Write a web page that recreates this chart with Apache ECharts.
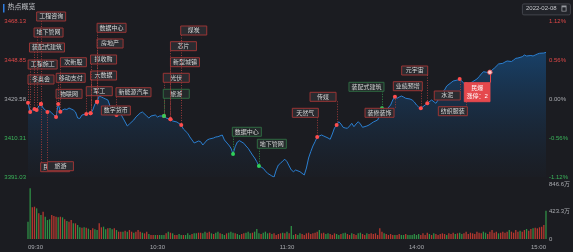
<!DOCTYPE html>
<html><head><meta charset="utf-8">
<script src="https://cdn.jsdelivr.net/npm/echarts@6/dist/echarts.min.js"></script>
<style>html,body{margin:0;padding:0;background:#1b1c21;} #c{width:573px;height:252px;}</style>
</head><body><div id="c"></div>
<script>
// ---------- data ----------
const lineMinutes = [0,1,2,3,4,5,6,7,8,9,10,11,12,13,14,15,16,17,18,19,21,22,23,24,25,27,28,29,30,31,32,33,34,35,36,37,38,39,40,41,42,43,44,46,47,49,50,52,53,55,56,57,59,60,61,63,64,66,67,69,71,72,74,75,76,77,79,80,81,83,84,86,87,88,90,91,93,94,95,96,97,98,100,101,102,104,105,106,107,108,109,110,111,113,114,115,116,117,118,119,120,121,122,123,124,126,128,129,130,131,132,133,134,136,137,139,140,141,142,143,144,145,146,147,148,149,150,151,152,153,154,155,157,158,160,162,163,164,166,168,169,170,171,172,173,174,175,177,178,179,180,181,182,184,185,187,189,190,191,192,193,194,196,197,199,200,202,203,205,206,208,209,210,211,213,214,215,216,218,220,221,222,224,225,226,227,229,230,231,233,234,235,236,237,239,240];
const linePrices = [3427.75,3423.16,3424.14,3424.64,3424.14,3426.12,3427.11,3425.13,3424.14,3423.16,3423.65,3422.66,3421.67,3420.68,3427.11,3423.30,3424.14,3424.64,3424.39,3425.13,3424.14,3423.16,3420.19,3419.95,3421.67,3422.17,3422.66,3422.51,3424.14,3427.11,3428.25,3431.06,3430.57,3430.07,3429.58,3429.09,3426.12,3424.64,3423.16,3421.67,3422.66,3422.17,3420.19,3416.24,3417.22,3419.20,3420.68,3422.66,3423.16,3421.18,3420.19,3421.18,3421.67,3420.68,3421.18,3421.18,3420.19,3419.55,3418.71,3418.21,3416.73,3414.75,3412.63,3410.80,3409.32,3407.84,3408.82,3408.48,3406.85,3409.32,3409.81,3410.31,3410.80,3410.95,3411.79,3409.32,3406.85,3405.36,3402.40,3406.01,3408.33,3408.97,3407.69,3406.35,3405.22,3401.90,3400.42,3398.59,3396.47,3395.97,3395.33,3394.00,3392.86,3391.53,3391.03,3394.49,3396.96,3397.80,3398.94,3399.78,3398.59,3396.47,3394.49,3393.65,3394.49,3393.65,3392.02,3395.48,3400.42,3403.54,3406.35,3408.48,3410.80,3411.79,3411.29,3410.31,3409.66,3412.28,3415.25,3416.73,3418.36,3417.22,3415.59,3415.25,3415.10,3416.24,3417.57,3415.89,3417.22,3418.36,3417.22,3415.59,3416.24,3416.73,3418.21,3419.20,3421.67,3424.98,3424.14,3426.61,3429.09,3430.72,3429.93,3430.57,3431.06,3430.57,3429.93,3429.58,3429.09,3428.10,3426.61,3425.63,3424.98,3426.61,3427.45,3429.09,3427.45,3429.09,3430.72,3433.04,3434.03,3436.00,3437.64,3438.48,3438.97,3439.46,3437.34,3436.84,3437.49,3438.13,3439.46,3440.60,3441.94,3443.07,3442.68,3442.78,3443.91,3444.75,3446.88,3447.22,3447.87,3448.36,3448.11,3448.85,3449.69,3449.84,3450.48,3451.32,3450.83,3451.08,3450.83,3451.32,3451.82,3452.17,3452.31,3452.63];

// volume per minute (万)
const volumes = [266,780,488,497,472,396,369,420,343,292,
303,369,354,343,334,343,334,303,277,266,
292,241,241,215,180,174,180,174,159,138,
164,149,138,241,180,190,149,164,169,149,
164,138,113,113,113,128,113,138,113,97,
113,138,113,97,87,113,77,62,62,62,
62,62,62,62,87,113,97,87,62,62,
77,62,62,62,87,62,77,87,87,97,
97,87,113,97,113,87,77,97,113,87,
77,62,87,97,113,97,87,77,62,77,
87,97,113,87,97,113,154,87,77,97,
113,87,97,77,87,62,77,87,97,87,
113,87,200,62,77,62,87,77,62,87,
97,77,87,97,113,138,87,97,77,87,
77,62,87,77,62,77,87,97,77,62,
87,77,62,87,97,77,62,87,77,87,
77,87,62,164,113,87,77,62,77,62,
62,62,77,62,62,77,62,62,62,77,
62,77,62,87,62,97,77,62,87,77,
62,77,87,77,62,87,77,97,77,87,
97,77,87,113,77,97,87,77,113,97,
87,113,97,77,113,138,97,113,87,97,
113,97,113,138,113,97,138,113,128,113,
138,154,128,154,164,174,164,180,190,215,
435];
const volDir = "GGRRGRGRGG"+"GRRRGRGRGR"+"RGRGGRGRGR"+"RGGRRGGRGG"+"RGRRGRGRRG"+"RRRGRRGRRG"+"RGGGRGRGRR"+"GGRGGGRGGR"+
"RGGRRGRGGR"+"GGRGGGRGGR"+"RGGGRGGGRG"+"GGRGRRRRGR"+"GRGGRGGRRR"+"RRRRRGRRGG"+"RRRGGRGGRR"+"GRRGGRRGRR"+
"RRRRRGRRRR"+"GRRGGRGGGG"+"GGRRRRGRGR"+"RRRRGRRRGR"+"GGRRRRRRRR"+"RGGRRRRRGR"+"RRRGRRRRGR"+"RGRRGRRRRR"+"G";

const xTickLabels = ['09:30','10:30','11:30','14:00','15:00'];
const priceTickLabels = ['3391.03','3410.31','3429.58','3448.85','3468.13'];
const pctTickLabels = ['-1.12%','-0.56%','0.00%','0.56%','1.12%'];
const volTickLabels = ['0','423.3万','846.6万'];

const annotMinutes = [0,1,3,4,6,6,9,13,14,15,27,29,29,32,32,41,32,63,63,66,66,71,95,107,134,143,164,170,182,185,200,203,214];
const annotNames = ['冬奥会','工程施工','装配式建筑','地下管网','工程咨询','民航机场','旅游','物联网','移动支付','次新股','军工','大数据','拟收购','房地产','数据中心','新能源汽车','数字货币','光伏','旅游','新型城镇','芯片','煤炭','数据中心','地下管网','天然气','传媒','装配式建筑','装修装饰','业绩预增','元宇宙','水泥','纺织服装','民爆\n涨停：2'];
const annotKinds = ['up','up','up','up','up','up','up','up','up','up','up','up','up','up','up','up','up','up','down','up','up','up','down','down','up','up','down','up','up','up','up','up','limit'];
// layout: box offset from the dot [dx, dy] in px
const annotOffsets = [[0,-27.7],[-2,-52],[-5,-66],[-2.6,-82],[-4.3,-92],[-0.3,58.7],[0,49.7],[0,-27.7],[-2,-30.7],[0,-54],[0,-27.3],[0,-42.3],[0,-58.3],[0,-62.7],[0,-78.4],[-0.5,-27.3],[4.3,4.3],[-0.7,-42.7],[-0.7,-26.7],[0,-61.6],[0,-77.6],[-0.5,-99],[-0.7,-26.7],[-1.6,-26.7],[-24.9,-28.7],[-26.6,-32.7],[-33,-26],[-29.9,11.6],[-27.5,-26.6],[-25.6,-37.3],[-25.4,12],[-27.8,22.4],[-25.6,10.4]];

// ---------- chart ----------
const RED = '#e04848', GREEN = '#3bb55a', GRAY = '#a9abb0';
const FONT = '"Liberation Sans","Noto Sans CJK SC",sans-serif';
const chart = echarts.init(document.getElementById('c'), null, {renderer:'canvas'});

const priceByMinute = {};
lineMinutes.forEach((m,i)=>{priceByMinute[m]=linePrices[i];});
const annotData = annotMinutes.map((m,i)=>[m, priceByMinute[m]]);

function tickColor(i){ return i>2 ? RED : (i<2 ? GREEN : GRAY); }

function renderAnnot(params, api){
  const i = params.dataIndex;
  const pt = api.coord([api.value(0), api.value(1)]);
  const name = annotNames[i], kind = annotKinds[i], off = annotOffsets[i];
  const isLimit = kind === 'limit';
  const border = kind === 'down' ? '#2f6a42' : '#9a3535';
  const lead = kind === 'down' ? '#2f8a48' : (isLimit ? '#e5484d' : '#9a3a3a');
  const fill = isLimit ? '#e5484d' : (kind === 'down' ? '#23292a' : '#2a2b30');
  const lines = name.split('\n');
  const maxLen = Math.max.apply(null, lines.map(s=>s.length));
  const w = isLimit ? 25.7 : Math.max(26, maxLen*6+5);
  const h = isLimit ? 19 : 9;
  const x0 = pt[0] + off[0], y0 = pt[1] + off[1];
  const below = off[1] > 0;
  const lx = Math.round(pt[0]) + 0.5;
  const ly1 = below ? pt[1] : y0 + h;
  const ly2 = below ? y0 : pt[1];
  const dotFill = isLimit ? '#f6c9c9' : (kind === 'down' ? '#2fd05a' : '#ff4d4d');
  return {
    type:'group',
    children:[
      {type:'line', shape:{x1:lx,y1:ly1,x2:lx,y2:ly2}, style:{stroke:lead, lineWidth:1, lineDash: isLimit ? null : [1,1.5]}},
      {type:'rect', shape:{x:x0,y:y0,width:w,height:h}, style:{fill:fill, stroke: isLimit ? fill : border, lineWidth:1}},
      {type:'text', style:{text:name, x:x0+w/2, y:y0+h/2+0.3, fill: isLimit ? '#ffffff' : '#d6d6d6', font:'6px '+FONT, lineHeight:8, align:'center', verticalAlign:'middle', textAlign:'center', textVerticalAlign:'middle'}},
      {type:'circle', shape:{cx:pt[0], cy:pt[1], r: isLimit ? 2.3 : 2}, style:{fill:dotFill, stroke: isLimit ? '#e5484d' : null, lineWidth: isLimit ? 0.8 : 0}}
    ]
  };
}

const option = {
  backgroundColor:'#1b1c21',
  animation:false,
  textStyle:{fontFamily:FONT},
  grid:[
    {left:28, right:27, top:21, height:156},
    {left:28, right:27, top:184, height:55}
  ],
  xAxis:[
    {type:'value', gridIndex:0, min:0, max:240, show:false},
    {type:'value', gridIndex:1, min:0, max:240, interval:60,
      axisLine:{show:false}, axisTick:{show:false}, splitLine:{show:false},
      axisLabel:{fontSize:6, color:GRAY, margin:5, alignMinLabel:'left', alignMaxLabel:'right',
        formatter:(v)=>xTickLabels[Math.round(v/60)]}}
  ],
  yAxis:[
    {type:'value', gridIndex:0, position:'left', min:3391.03, max:3468.13, interval:19.275,
      axisLine:{show:false}, axisTick:{show:false}, splitLine:{show:false},
      axisLabel:{fontSize:6, margin:2, showMinLabel:true, showMaxLabel:true,
        color:(v,i)=>tickColor(i), formatter:(v,i)=>priceTickLabels[i]}},
    {type:'value', gridIndex:0, position:'right', min:3391.03, max:3468.13, interval:19.275,
      axisLine:{show:false}, axisTick:{show:false}, splitLine:{show:false},
      axisLabel:{fontSize:6, margin:3, showMinLabel:true, showMaxLabel:true,
        color:(v,i)=>tickColor(i), formatter:(v,i)=>pctTickLabels[i]}},
    {type:'value', gridIndex:1, position:'right', min:0, max:846.6, interval:423.3,
      axisLine:{show:false}, axisTick:{show:false}, splitLine:{show:false},
      axisLabel:{fontSize:6, margin:3, color:GRAY, showMinLabel:true, showMaxLabel:true,
        formatter:(v,i)=>volTickLabels[i]}}
  ],
  graphic:[
    {type:'rect', left:3, top:4, shape:{width:1.5, height:8.5}, style:{fill:'#2f7de1'}},
    {type:'text', left:7.5, top:4, style:{text:'热点概览', fill:'#c4c6cb', font:'7px '+FONT}},
    {type:'rect', left:522, top:3.5, shape:{width:48, height:11, r:1.5}, style:{fill:'#22242a', stroke:'#4b4e56', lineWidth:0.8}},
    {type:'text', left:526, top:5.8, style:{text:'2022-02-08', fill:'#c8c9cd', font:'6px '+FONT}},
    {type:'rect', left:561.5, top:5.5, shape:{width:5, height:6}, style:{fill:'#9a9ca2'}},
    {type:'rect', left:562.3, top:7.3, shape:{width:3.4, height:3.5}, style:{fill:'#22242a'}}
  ],
  series:[
    {type:'line', xAxisIndex:0, yAxisIndex:0, data: lineMinutes.map((m,i)=>[m, linePrices[i]]),
      showSymbol:false, symbol:'none', lineStyle:{color:'#2b7fd0', width:1},
      areaStyle:{origin:'start', color:new echarts.graphic.LinearGradient(0,0,0,1,[
        {offset:0, color:'rgba(22,88,150,0.85)'},
        {offset:1, color:'rgba(22,60,100,0.05)'}])},
      z:2},
    {type:'custom', xAxisIndex:0, yAxisIndex:0, data:annotData, renderItem:renderAnnot, clip:false, z:5},
    {type:'bar', xAxisIndex:1, yAxisIndex:2, barWidth:1.3,
      data: volumes.map((v,i)=>({value:[i, v], itemStyle:{color: volDir[i]==='R' ? '#b5382f' : '#2f8f45'}}))}
  ]
};
chart.setOption(option);
</script>
</body></html>
